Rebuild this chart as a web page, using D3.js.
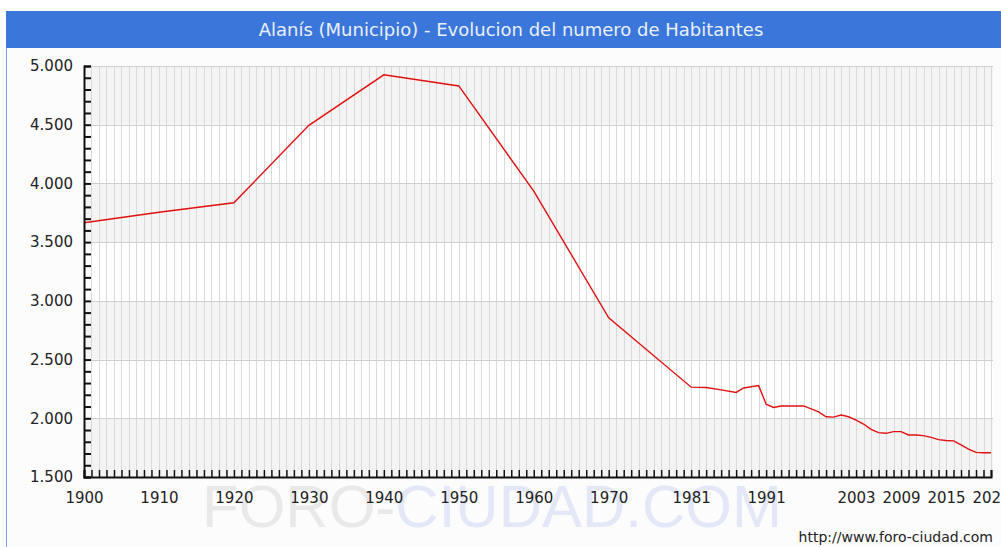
<!DOCTYPE html>
<html>
<head>
<meta charset="utf-8">
<script src="https://cdn.jsdelivr.net/npm/d3@7"></script>
<style>
  body { margin: 0; background: #fff; }
  svg { display: block; font-family: "DejaVu Sans", Verdana, sans-serif; }
</style>
</head>
<body>
<svg id="chart" width="1001" height="547"></svg>
<script>
// population data
var years = [1900, 1910, 1920, 1930, 1940, 1950, 1960, 1970, 1981, 1983, 1985, 1987, 1988, 1990,
  1991, 1992, 1993, 1996, 1998, 1999, 2000, 2001, 2002, 2003, 2004, 2005, 2006, 2007, 2008,
  2009, 2010, 2011, 2012, 2013, 2014, 2015, 2016, 2017, 2018, 2019, 2020, 2021]
var habitantes = [3665, 3755, 3835, 4495, 4925, 4830, 3935, 2855, 2265, 2262, 2242, 2220, 2258, 2278,
  2120, 2092, 2105, 2105, 2055, 2013, 2010, 2028, 2013, 1985, 1951, 1905, 1878, 1872, 1886,
  1886, 1858, 1858, 1852, 1838, 1818, 1811, 1808, 1774, 1738, 1710, 1707, 1707]
var xLabels = [1900, 1910, 1920, 1930, 1940, 1950, 1960, 1970, 1981, 1991, 2003, 2009, 2015, 2021]
var yMajor = [1500, 2000, 2500, 3000, 3500, 4000, 4500, 5000]

var titulo = "Alanís (Municipio) - Evolucion del numero de Habitantes"

var svg = d3.select("#chart")
var W = 1001, H = 547
var margin = { top: 66, left: 84 }
var plotRight = 991, plotBottom = 477

var es = d3.formatLocale({ decimal: ",", thousands: ".", grouping: [3], currency: ["", ""] })
var fmt = es.format(",.0f")

var x = d3.scaleLinear().domain([1900, 2021]).range([margin.left, plotRight])
var y = d3.scaleLinear().domain([1500, 5000]).range([plotBottom, margin.top])

// frame + title bar
svg.append("rect").attr("x", 6.5).attr("y", 11.5).attr("width", W).attr("height", H)
  .attr("fill", "#fcfcfc").attr("stroke", "#7aa3e6")
svg.append("rect").attr("x", 6).attr("y", 11).attr("width", W).attr("height", 37)
  .attr("fill", "#3b76da")
svg.append("text").attr("x", 511).attr("y", 36).attr("text-anchor", "middle")
  .attr("font-size", 18).attr("fill", "#eaf0ff").text(titulo)

// alternating bands
var bands = d3.pairs(yMajor)
svg.append("g").selectAll("rect").data(bands).enter().append("rect")
  .attr("x", margin.left).attr("width", plotRight - margin.left + 2)
  .attr("y", d => y(d[1])).attr("height", d => y(d[0]) - y(d[1]))
  .attr("fill", (d, i) => i % 2 == 0 ? "#f4f4f4" : "#ffffff")

// vertical gridlines, one per year
svg.append("g").attr("stroke", "#dadada").attr("stroke-width", 1)
  .selectAll("line").data(d3.range(1901, 2022)).enter().append("line")
  .attr("x1", d => Math.round(x(d)) + 0.5).attr("x2", d => Math.round(x(d)) + 0.5)
  .attr("y1", margin.top).attr("y2", plotBottom)

// horizontal gridlines
svg.append("g").attr("stroke", "#cfcfcf").attr("stroke-width", 1)
  .selectAll("line").data(yMajor.slice(1)).enter().append("line")
  .attr("x1", margin.left).attr("x2", plotRight + 2)
  .attr("y1", d => Math.round(y(d)) + 0.5).attr("y2", d => Math.round(y(d)) + 0.5)

// watermark, very faint
var wm = svg.append("text").attr("x", 492).attr("y", 527).attr("text-anchor", "middle")
  .attr("font-family", "'Liberation Sans', Arial, sans-serif").attr("font-size", 60)
wm.append("tspan").attr("fill", "#e9e9e9").text("FORO-")
wm.append("tspan").attr("fill", "#e3e7f7").text("CIUDAD.COM")

// the line
var line = d3.line().x((d, i) => x(years[i])).y(d => y(d))
svg.append("path").datum(habitantes)
  .attr("d", line).attr("fill", "none")
  .attr("stroke", "#e01010").attr("stroke-width", 1.4)

// y axis: ticks every 100, labels every 500
var yAxis = d3.axisLeft(y)
  .tickValues(d3.range(1500, 5001, 100))
  .tickSize(-7).tickPadding(11)
  .tickFormat(d => d % 500 == 0 ? fmt(d) : "")
svg.append("g").attr("transform", `translate(${margin.left},0)`)
  .call(yAxis)
  .call(g => g.select(".domain").attr("stroke", "#111").attr("stroke-width", 2))
  .call(g => g.selectAll(".tick line").attr("stroke", "#111").attr("stroke-width", 2))
  .call(g => g.selectAll("text").attr("font-size", 15).attr("fill", "#222")
    .attr("font-family", "'DejaVu Sans', Verdana, sans-serif"))

// x axis: a tick each year
var xAxis = d3.axisBottom(x)
  .tickValues(d3.range(1900, 2022))
  .tickSize(-7).tickPadding(15)
  .tickFormat(d => xLabels.includes(d) ? String(d) : "")
svg.append("g").attr("transform", `translate(0,${plotBottom})`)
  .call(xAxis)
  .call(g => g.select(".domain").attr("stroke", "#111").attr("stroke-width", 2))
  .call(g => g.selectAll(".tick line").attr("stroke", "#111").attr("stroke-width", 1.5))
  .call(g => g.selectAll("text").attr("font-size", 15).attr("fill", "#222")
    .attr("font-family", "'DejaVu Sans', Verdana, sans-serif"))

svg.append("text").attr("x", 993).attr("y", 542).attr("text-anchor", "end")
  .attr("font-size", 14).attr("fill", "#222").text("http://www.foro-ciudad.com")
</script>
</body>
</html>
